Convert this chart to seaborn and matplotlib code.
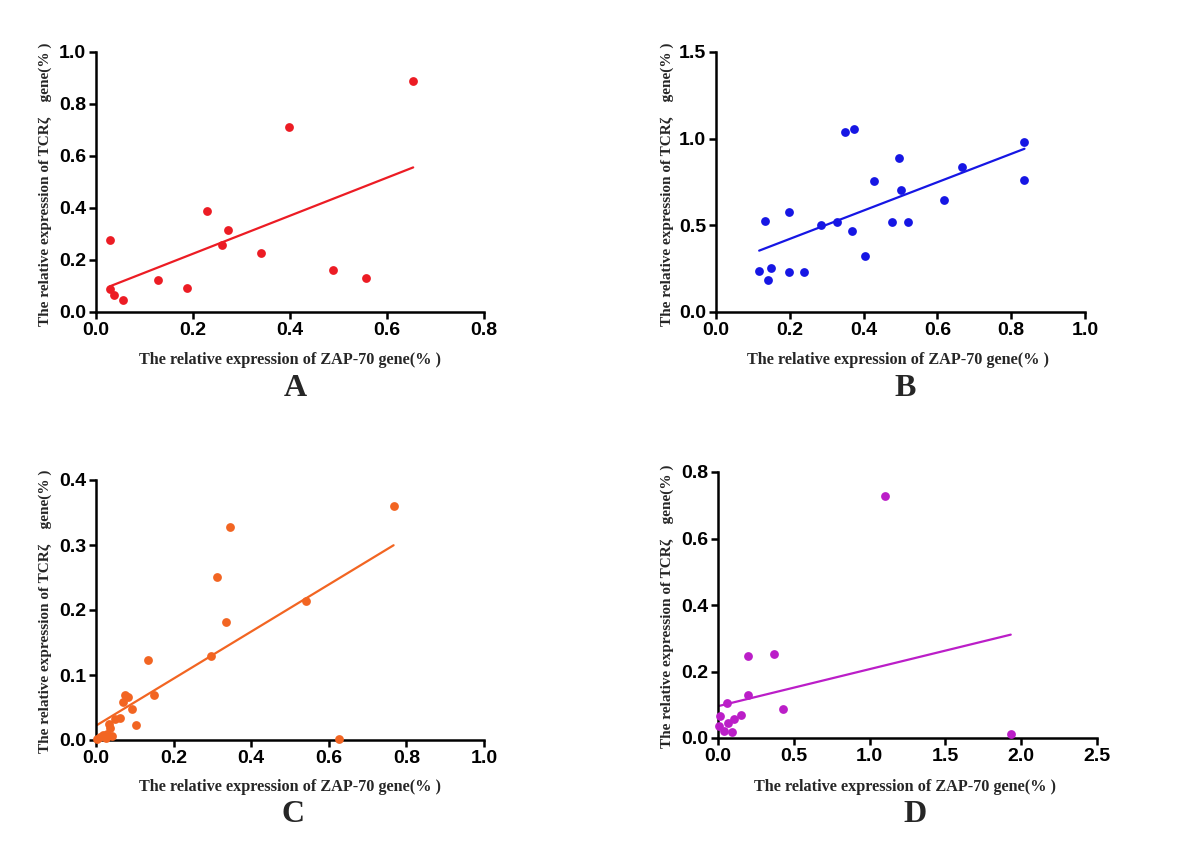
import numpy as np
import pandas as pd
import matplotlib
matplotlib.use("Agg")
import matplotlib.pyplot as plt
import seaborn as sns

# ---- data ----
a_zap = [0.029, 0.029, 0.038, 0.056, 0.127, 0.187, 0.228, 0.260, 0.273, 0.341, 0.397, 0.488, 0.556, 0.654]
a_tcr = [0.275, 0.087, 0.067, 0.046, 0.123, 0.091, 0.388, 0.257, 0.317, 0.226, 0.710, 0.162, 0.130, 0.890]

b_zap = [0.117, 0.142, 0.133, 0.149, 0.197, 0.199, 0.238, 0.284, 0.327, 0.350, 0.374, 0.368,
         0.404, 0.429, 0.477, 0.497, 0.502, 0.521, 0.618, 0.667, 0.836, 0.836]
b_tcr = [0.237, 0.183, 0.526, 0.254, 0.233, 0.578, 0.231, 0.503, 0.522, 1.040, 1.057, 0.466,
         0.322, 0.755, 0.522, 0.886, 0.705, 0.518, 0.647, 0.836, 0.982, 0.764]

c_zap = [0.767, 0.345, 0.312, 0.335, 0.541, 0.297, 0.135, 0.150, 0.076, 0.082, 0.069, 0.093,
         0.062, 0.049, 0.104, 0.627, 0.034, 0.036, 0.040, 0.029, 0.019, 0.010, 0.003, 0.026]
c_tcr = [0.3595, 0.328, 0.251, 0.182, 0.214, 0.130, 0.1226, 0.0687, 0.070, 0.0656, 0.059, 0.048,
         0.034, 0.032, 0.0226, 0.0015, 0.025, 0.018, 0.006, 0.010, 0.008, 0.004, 0.0015, 0.003]

d_zap = [1.102, 1.931, 0.198, 0.369, 0.198, 0.427, 0.062, 0.011, 0.004, 0.042, 0.064, 0.090, 0.108, 0.154]
d_tcr = [0.727, 0.011, 0.247, 0.252, 0.130, 0.087, 0.105, 0.067, 0.037, 0.021, 0.044, 0.017, 0.057, 0.068]

panel_letters = ["A", "B", "C", "D"]
x_label = "The relative expression of ZAP-70 gene(% )"
y_label = "The relative expression of TCR\u03b6    gene(% )"

x_ticks = [[0.0, 0.2, 0.4, 0.6, 0.8], [0.0, 0.2, 0.4, 0.6, 0.8, 1.0],
           [0.0, 0.2, 0.4, 0.6, 0.8, 1.0], [0.0, 0.5, 1.0, 1.5, 2.0, 2.5]]
y_ticks = [[0.0, 0.2, 0.4, 0.6, 0.8, 1.0], [0.0, 0.5, 1.0, 1.5],
           [0.0, 0.1, 0.2, 0.3, 0.4], [0.0, 0.2, 0.4, 0.6, 0.8]]
colors = ["#ec1c24", "#1616e4", "#f26522", "#bb1ec8"]

datasets = [(a_zap, a_tcr), (b_zap, b_tcr), (c_zap, c_tcr), (d_zap, d_tcr)]

sns.set_style("ticks")
plt.rcParams["font.family"] = ["Liberation Sans", "DejaVu Sans"]

W, H = 1200, 843
fig = plt.figure(figsize=(12, 8.43), dpi=100)

# axes boxes in pixels: left, top, right, bottom
boxes = [(96, 52, 484, 312), (716, 52, 1085, 312), (96, 480, 484, 740), (718, 472, 1097, 738)]
xlab_pos = [(290, 360), (898, 360), (290, 787), (905, 787)]
letter_pos = [(295, 388), (905, 388), (293, 814), (915, 814)]
ylab_pos = [(45, 184), (667, 184), (45, 611), (667, 606)]

serif = ["Liberation Serif", "DejaVu Serif"]

for i, ((xs, ys), box) in enumerate(zip(datasets, boxes)):
    l, t, r, b = box
    ax = fig.add_axes([l / W, 1 - b / H, (r - l) / W, (b - t) / H])
    df = pd.DataFrame({"zap": xs, "tcr": ys})
    sns.regplot(data=df, x="zap", y="tcr", ax=ax, ci=None, color=colors[i],
                scatter_kws={"s": 40, "alpha": 1, "linewidths": 0, "clip_on": False, "zorder": 3},
                line_kws={"lw": 1.6})
    ax.set_xlim(x_ticks[i][0], x_ticks[i][-1])
    ax.set_ylim(y_ticks[i][0], y_ticks[i][-1])
    ax.set_xticks(x_ticks[i])
    ax.set_yticks(y_ticks[i])
    ax.set_xticklabels([f"{v:.1f}" for v in x_ticks[i]])
    ax.set_yticklabels([f"{v:.1f}" for v in y_ticks[i]])
    ax.set_xlabel("")
    ax.set_ylabel("")
    for s in ["top", "right"]:
        ax.spines[s].set_visible(False)
    for s in ["left", "bottom"]:
        ax.spines[s].set_linewidth(1.8)
        ax.spines[s].set_color("black")
    ax.tick_params(axis="both", width=1.8, length=5, labelsize=14, pad=2, colors="black")
    for lab in ax.get_xticklabels() + ax.get_yticklabels():
        lab.set_fontweight("bold")
    ax.set_facecolor("white")

    fig.text(xlab_pos[i][0] / W, 1 - xlab_pos[i][1] / H, x_label, family=serif,
             fontweight="bold", fontsize=11.7, ha="center", va="center")
    fig.text(ylab_pos[i][0] / W, 1 - ylab_pos[i][1] / H, y_label, family=serif,
             fontweight="bold", fontsize=11, ha="center", va="center", rotation=90)
    fig.text(letter_pos[i][0] / W, 1 - letter_pos[i][1] / H, panel_letters[i], family=serif,
             fontweight="bold", fontsize=23, ha="center", va="center")

fig.savefig("out.png", dpi=100, facecolor="white")
